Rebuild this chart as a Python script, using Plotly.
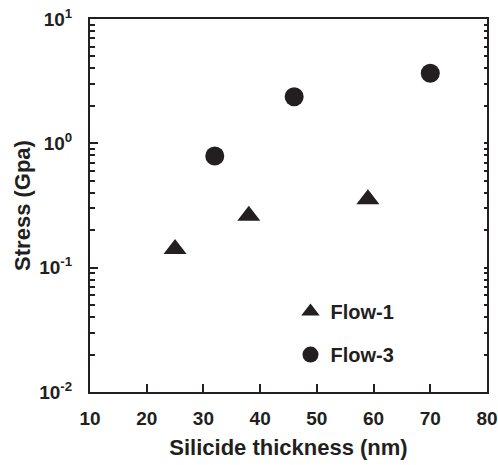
import plotly.graph_objects as go

flow1_x = [25, 38, 59]
flow1_y = [0.141, 0.262, 0.355]
flow3_x = [32, 46, 70]
flow3_y = [0.79, 2.37, 3.66]

ytick_vals = [0.01, 0.1, 1, 10]
ytick_text = ["10<sup>-2</sup>", "10<sup>-1</sup>", "10<sup>0</sup>", "10<sup>1</sup>"]
xtick_vals = [10, 20, 30, 40, 50, 60, 70, 80]
yminor_vals = [m * 10.0 ** e for e in range(-2, 1) for m in range(2, 10)]

FONT = "Liberation Sans, Arial, sans-serif"
DARK = "#231f20"

fig = go.Figure()
fig.add_trace(go.Scatter(x=flow1_x, y=flow1_y, mode="markers", name="Flow-1",
                         legendgroup="a",
                         marker=dict(symbol="triangle-up", size=20, color=DARK)))
fig.add_trace(go.Scatter(x=flow3_x, y=flow3_y, mode="markers", name="Flow-3",
                         legendgroup="b",
                         marker=dict(symbol="circle", size=19, color=DARK)))
# invisible traces carrying the extra tick axes
fig.add_trace(go.Scatter(x=flow3_x, y=flow3_y, mode="markers", yaxis="y2",
                         showlegend=False, hoverinfo="skip",
                         marker=dict(opacity=0)))
fig.add_trace(go.Scatter(x=flow3_x, y=flow3_y, mode="markers", yaxis="y3",
                         showlegend=False, hoverinfo="skip",
                         marker=dict(opacity=0)))

fig.update_layout(
    width=498, height=465,
    margin=dict(l=90, r=11, t=19, b=73),
    paper_bgcolor="white", plot_bgcolor="white",
    font=dict(family=FONT, size=19, color=DARK, weight="bold"),
    showlegend=True,
    legend=dict(x=0.505, y=0.268, xanchor="left", yanchor="top",
                bgcolor="rgba(0,0,0,0)", tracegroupgap=14,
                traceorder="grouped",
                font=dict(family=FONT, size=20, weight="bold")),
    xaxis=dict(range=[10, 80], tickvals=xtick_vals,
               ticks="inside", ticklen=8,
               tickwidth=2, tickcolor=DARK, showline=True, linewidth=2,
               linecolor=DARK, mirror=True, showgrid=False, zeroline=False,
               automargin=False, ticklabeloverflow="allow",
               ticklabelstandoff=8,
               tickfont=dict(size=19, weight="bold"),
               title=dict(text="Silicide thickness (nm)", standoff=12,
                          font=dict(size=22, weight="bold"))),
    yaxis=dict(type="log", range=[-2, 1], tickvals=ytick_vals, ticktext=ytick_text,
               ticks="inside", ticklen=8, tickwidth=2, tickcolor=DARK,
               showline=True, linewidth=2, linecolor=DARK, mirror=True,
               showgrid=False, zeroline=False, automargin=False,
               ticklabeloverflow="allow", ticklabelstandoff=12,
               tickfont=dict(size=19, weight="bold"),
               title=dict(text="Stress (Gpa)", standoff=3,
                          font=dict(size=22, weight="bold"))),
    yaxis2=dict(type="log", range=[-2, 1], overlaying="y", side="left",
                anchor="x", tickvals=yminor_vals, ticks="inside", ticklen=5,
                tickwidth=2, tickcolor=DARK, showticklabels=False,
                showgrid=False, zeroline=False, showline=False),
    yaxis3=dict(type="log", range=[-2, 1], overlaying="y", side="right",
                anchor="x", tickvals=ytick_vals + yminor_vals, ticks="inside",
                ticklen=3, tickwidth=1.5, tickcolor=DARK, showticklabels=False,
                showgrid=False, zeroline=False, showline=False),
)

fig.write_html("out.html")
